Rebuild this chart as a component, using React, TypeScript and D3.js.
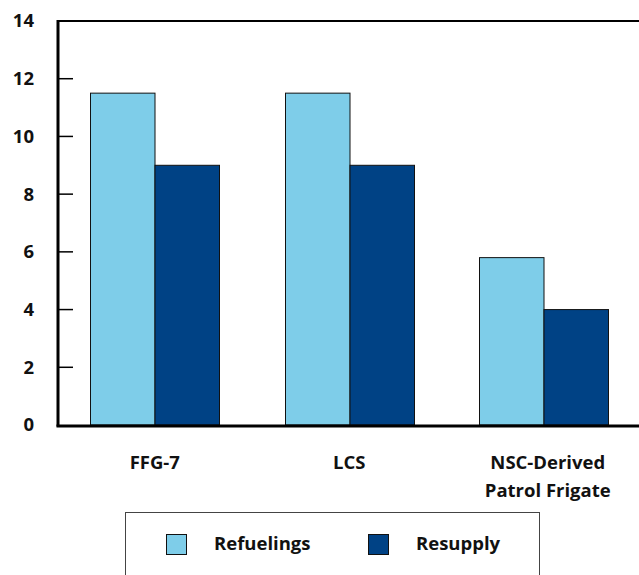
import { useEffect, useRef } from 'react';
import * as d3 from 'd3';

const categories = ['FFG-7', 'LCS', 'NSC-Derived\nPatrol Frigate'];
const seriesNames = ['Refuelings', 'Resupply'];
const refuelings = [11.5, 11.5, 5.8];
const resupply = [9, 9, 4];
const yTicks = [0, 2, 4, 6, 8, 10, 12, 14];
const COLORS = ['#7ecde9', '#004285'];

export default function App() {
  const svgRef = useRef<SVGSVGElement>(null);

  useEffect(() => {
    const svg = d3.select(svgRef.current);
    if (!svg.node()) return;
    svg.selectAll('*').remove();

    const width = 639;
    const height = 575;
    const margin = { top: 21, right: 0, bottom: 150, left: 58 };
    const font = '"Open Sans", Lato, sans-serif';
    const fs = 18.5;

    // bands run a little past the right edge, as in the source
    const x0 = d3.scaleBand().domain(categories).range([57.5, 641]).paddingInner(0).paddingOuter(0);
    const x1 = d3.scaleBand().domain(seriesNames).range([0, 129]);
    const y = d3.scaleLinear().domain([0, 14]).range([height - margin.bottom, margin.top]);

    const data = categories.map((c, i) => ({ cat: c, vals: [refuelings[i], resupply[i]] }));

    const groups = svg.append('g')
      .selectAll('g')
      .data(data)
      .join('g')
      .attr('transform', (d) => `translate(${Math.round(x0(d.cat)! + x0.bandwidth() / 2 - 64.5)},0)`);

    groups.selectAll('rect')
      .data((d) => d.vals.map((v, i) => ({ v, s: seriesNames[i], i })))
      .join('rect')
      .attr('x', (d) => x1(d.s)! + 0.5)
      .attr('y', (d) => y(d.v))
      .attr('width', x1.bandwidth())
      .attr('height', (d) => y(0) - y(d.v))
      .attr('fill', (d) => COLORS[d.i])
      .attr('stroke', '#111')
      .attr('stroke-width', 1);

    // top frame line
    svg.append('line')
      .attr('x1', margin.left).attr('x2', width)
      .attr('y1', y(14)).attr('y2', y(14))
      .attr('stroke', '#000').attr('stroke-width', 2);

    // tick marks
    svg.append('g')
      .selectAll('line')
      .data(yTicks.filter((t) => t > 0 && t < 14))
      .join('line')
      .attr('x1', margin.left).attr('x2', margin.left + 15)
      .attr('y1', (d) => y(d)).attr('y2', (d) => y(d))
      .attr('stroke', '#000').attr('stroke-width', 1.5);

    // left axis
    svg.append('line')
      .attr('x1', margin.left).attr('x2', margin.left)
      .attr('y1', y(14) - 1).attr('y2', y(0) + 1.5)
      .attr('stroke', '#000').attr('stroke-width', 3);

    // bottom axis
    svg.append('line')
      .attr('x1', margin.left - 1.5).attr('x2', width)
      .attr('y1', y(0) + 1).attr('y2', y(0) + 1)
      .attr('stroke', '#000').attr('stroke-width', 3);

    svg.append('g')
      .selectAll('text')
      .data(yTicks)
      .join('text')
      .attr('x', 34)
      .attr('y', (d) => y(d))
      .attr('dy', '0.35em')
      .attr('text-anchor', 'end')
      .attr('font-family', font)
      .attr('font-weight', 700)
      .attr('font-size', fs)
      .attr('fill', '#111')
      .text((d) => d);

    const catLabels = svg.append('g')
      .selectAll('text')
      .data(categories)
      .join('text')
      .attr('x', (d, i) => x0(d)! + x0.bandwidth() / 2 + (i === 2 ? 4 : 0))
      .attr('y', 469)
      .attr('text-anchor', 'middle')
      .attr('font-family', font)
      .attr('font-weight', 700)
      .attr('font-size', fs)
      .attr('fill', '#111');
    catLabels.each(function (d) {
      const t = d3.select(this);
      d.split('\n').forEach((line, i) => {
        t.append('tspan')
          .attr('x', t.attr('x'))
          .attr('dy', i === 0 ? 0 : 28)
          .text(line);
      });
    });

    // legend
    const legend = svg.append('g');
    legend.append('rect')
      .attr('x', 125.5).attr('y', 512.5)
      .attr('width', 414).attr('height', 80)
      .attr('fill', 'none').attr('stroke', '#444').attr('stroke-width', 1);
    const lx = [166, 368];
    seriesNames.forEach((s, i) => {
      legend.append('rect')
        .attr('x', lx[i] + 0.5).attr('y', 534.5)
        .attr('width', 20).attr('height', 20)
        .attr('fill', COLORS[i]).attr('stroke', '#111').attr('stroke-width', 1);
      legend.append('text')
        .attr('x', lx[i] + 48).attr('y', 544)
        .attr('dy', '0.35em')
        .attr('font-family', font)
        .attr('font-weight', 700)
        .attr('font-size', fs)
        .attr('fill', '#111')
        .text(s);
    });
  }, []);

  return (
    <svg
      ref={svgRef}
      width={639}
      height={575}
      style={{ position: 'absolute', left: 0, top: 0, background: '#fff' }}
    />
  );
}
